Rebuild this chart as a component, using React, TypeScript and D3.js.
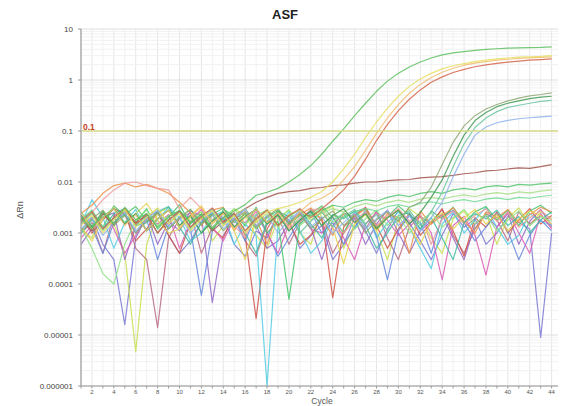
import React from "react";
import * as d3 from "d3";

const cycles = [1,2,3,4,5,6,7,8,9,10,11,12,13,14,15,16,17,18,19,20,21,22,23,24,25,26,27,28,29,30,31,32,33,34,35,36,37,38,39,40,41,42,43,44];
const xTickValues = [2,4,6,8,10,12,14,16,18,20,22,24,26,28,30,32,34,36,38,40,42,44];
const yTickValues = [10,1,0.1,0.01,0.001,0.0001,0.00001,0.000001];
const yTickLabels = ["10","1","0.1","0.01","0.001","0.0001","0.00001","0.000001"];
const threshold = 0.1;
const thresholdLabel = "0.1";
const title = "ASF";
const xTitle = "Cycle";
const yTitle = "ΔRn";

// baseline (negative) wells
const noiseBluePurple = [1.5e-3,2.0e-3,6e-4,3e-4,1.6e-5,8e-4,2.1e-3,2.6e-3,9e-4,4e-4,7e-4,1.6e-3,2.4e-3,2.0e-3,6e-4,3.5e-4,1.1e-3,8e-4,2.6e-3,1.8e-3,5e-4,9e-4,1.4e-3,3.0e-4,6e-4,2.0e-3,1.1e-3,4e-4,1.2e-3,2.8e-3,1.6e-3,7e-4,3e-4,9e-4,2.4e-3,1.3e-3,1.9e-3,6e-4,1.0e-3,2.1e-3,1.6e-3,1.2e-3,9e-6,1.0e-3];
const noiseYellowGreen = [1.2e-3,8e-4,2.5e-3,1.5e-3,4e-4,4.7e-6,6e-4,2.4e-3,3.2e-3,1.2e-3,2.0e-3,2.6e-3,7e-4,1.4e-3,3.0e-3,2.2e-3,9e-4,5e-4,1.9e-3,2.9e-3,1.0e-3,6e-4,2.6e-3,3.4e-3,5e-4,1.5e-3,2.3e-3,1.1e-3,3e-4,1.8e-3,3.0e-3,2.1e-3,8e-4,4e-4,1.9e-3,2.7e-3,1.2e-3,2.4e-3,6e-4,2.0e-3,3.1e-3,1.4e-3,2.6e-3,1.9e-3];
const noiseRose = [1.0e-3,1.6e-3,4e-4,2.2e-3,2.8e-3,5e-4,3e-4,1.4e-5,8e-4,1.9e-3,2.5e-3,4e-4,1.3e-3,2.0e-3,2.4e-3,7e-4,3.5e-4,1.5e-3,2.2e-3,6e-4,1.6e-3,2.9e-3,1.8e-3,4e-4,1.0e-3,2.3e-3,1.2e-3,2.7e-3,8e-4,3e-4,1.3e-3,2.1e-3,1.5e-3,3.0e-3,9e-4,4e-4,1.2e-3,2.4e-3,1.8e-3,7e-4,2.6e-3,1.5e-3,2.2e-3,1.3e-3];
const noisePurple = [6e-4,1.2e-3,2.0e-3,2.5e-3,3e-4,1.4e-3,2.4e-3,6e-4,1.7e-3,1.1e-3,2.7e-3,2.2e-3,4.3e-5,9e-4,1.8e-3,3.0e-3,1.4e-3,5e-4,7e-4,1.6e-3,2.6e-3,1.3e-3,3e-4,1.4e-3,2.5e-3,1.9e-3,6e-4,1.5e-3,2.8e-3,1.0e-3,4e-4,1.1e-3,1.7e-3,2.3e-3,8e-4,3e-4,1.5e-3,2.2e-3,1.3e-3,2.4e-3,6e-4,1.7e-3,2.9e-3,1.4e-3];
const noiseRed = [2.0e-3,1.0e-3,1.8e-3,3.0e-3,2.4e-3,7e-4,1.2e-3,2.6e-3,9e-4,4e-4,1.6e-3,2.1e-3,1.2e-3,8e-4,2.5e-3,9e-4,2.1e-5,1.2e-3,2.7e-3,1.6e-3,6e-4,9e-4,2.0e-3,5.4e-5,1.3e-3,2.2e-3,3.2e-3,1.4e-3,5e-4,1.2e-3,2.4e-3,9e-4,1.6e-3,2.9e-3,1.1e-3,3.5e-4,2.0e-3,1.3e-3,2.6e-3,1.0e-3,1.8e-3,3.0e-3,1.5e-3,2.2e-3];
const noiseCyan = [1.5e-3,4.5e-3,2.0e-3,5e-4,1.6e-3,2.9e-3,1.1e-3,1.8e-3,3.2e-3,2.0e-3,7e-4,1.0e-3,2.2e-3,2.6e-3,6e-4,1.5e-3,9e-4,1.0e-6,1.4e-3,2.6e-3,1.1e-3,4e-4,7e-4,1.8e-3,2.4e-3,1.2e-3,2.9e-3,8e-4,1.6e-3,2.6e-3,1.3e-3,5e-4,2.0e-4,1.5e-3,2.6e-3,1.0e-3,1.8e-3,3.2e-3,1.3e-3,6e-4,9e-4,2.4e-3,1.7e-3,1.4e-3];
const noiseBlue = [2.2e-3,1.3e-3,4e-4,1.6e-3,2.4e-3,1.0e-3,1.9e-3,3e-4,1.4e-3,2.8e-3,1.2e-3,6e-5,1.1e-3,2.5e-3,1.9e-3,7e-4,2.3e-3,1.0e-3,3.5e-4,8e-4,1.8e-3,2.6e-3,1.0e-3,1.6e-3,6e-4,1.3e-3,2.6e-3,9e-4,1.2e-4,1.1e-3,2.2e-3,1.6e-3,4e-4,2.1e-3,2.8e-3,1.6e-3,7e-4,1.3e-3,2.4e-3,1.1e-3,3e-4,9e-4,1.8e-3,1.1e-3];
const noiseMagenta = [8e-4,1.4e-3,2.6e-3,1.2e-3,4e-4,9e-4,2.0e-3,1.5e-3,2.3e-3,5e-4,1.7e-3,2.9e-3,1.3e-3,7e-4,1.9e-3,1.6e-3,2.6e-3,1.0e-3,4e-4,1.5e-3,2.4e-3,1.2e-3,1.0e-3,2.1e-3,8e-4,3e-4,1.5e-3,2.5e-3,1.8e-3,9e-4,1.5e-3,2.2e-3,1.0e-3,1.2e-4,1.4e-3,2.1e-3,9e-4,1.5e-4,1.3e-3,2.6e-3,1.0e-3,4e-4,2.4e-3,1.2e-3];
const noiseGreen = [1.8e-3,2.8e-3,1.3e-3,3.4e-3,2.2e-3,1.6e-3,3.0e-3,1.2e-3,2.0e-3,3.6e-3,1.5e-3,2.4e-3,1.1e-3,2.9e-3,2.2e-3,1.4e-3,3.2e-3,1.0e-3,1.7e-3,5e-5,1.5e-3,2.4e-3,3.4e-3,2.0e-3,1.0e-3,2.6e-3,3.0e-3,1.3e-3,2.1e-3,3.4e-3,2.2e-3,1.2e-3,2.7e-3,1.9e-3,3.2e-3,1.6e-3,2.6e-3,3.3e-3,1.8e-3,2.8e-3,1.4e-3,2.7e-3,3.5e-3,2.4e-3];
const noiseOrange = [2.4e-3,3.5e-3,6e-3,8.5e-3,9.5e-3,8e-3,9e-3,7.5e-3,6e-3,4e-3,2.5e-3,1.4e-3,2.8e-3,3.2e-3,1.1e-3,2.6e-3,1.9e-3,6e-4,2.8e-3,1.5e-3,2.3e-3,3.1e-3,1.8e-3,9e-4,2.4e-3,2.1e-3,3.0e-3,1.2e-3,2.4e-3,2.0e-3,4e-4,2.7e-3,1.5e-3,2.2e-3,3.1e-3,1.7e-3,1.0e-3,2.6e-3,2.0e-3,2.9e-3,1.6e-3,2.3e-3,3.2e-3,2.6e-3];
const noiseSalmon = [1.5e-3,2.5e-3,4.5e-3,7e-3,9.5e-3,1.0e-2,8.5e-3,7.5e-3,7e-3,3e-3,5e-3,3e-3,1.8e-3,2.6e-3,1.4e-3,8e-4,3.0e-3,1.6e-3,2.3e-3,1.2e-3,2.0e-3,2.8e-3,3.0e-3,1.2e-3,1.0e-3,1.8e-3,2.6e-3,1.4e-3,2.1e-3,3.0e-3,1.7e-3,2.4e-3,6e-4,1.9e-3,2.7e-3,1.5e-3,2.2e-3,3.0e-3,1.7e-3,2.5e-3,1.3e-3,2.0e-3,2.8e-3,1.8e-3];
const noiseTeal = [1.0e-3,1.8e-3,1.2e-3,2.4e-3,3.0e-3,1.4e-3,1.6e-3,2.6e-3,3.3e-3,1.3e-3,6e-4,1.6e-3,2.5e-3,1.8e-3,2.4e-3,1.0e-3,4e-4,1.7e-3,2.6e-3,2.1e-3,2.9e-3,1.5e-3,8e-4,2.3e-3,1.9e-3,2.7e-3,1.4e-3,5e-4,1.0e-3,2.2e-3,2.5e-3,1.2e-3,2.0e-3,8e-4,3e-4,1.6e-3,2.4e-3,1.9e-3,2.8e-3,1.4e-3,2.1e-3,1.0e-3,1.8e-3,2.6e-3];
const noiseYellow = [1.3e-3,7e-4,1.9e-3,3.2e-3,1.5e-3,2.4e-3,3.8e-3,1.8e-3,1.0e-3,1.2e-3,2.2e-3,3.4e-3,1.6e-3,2.5e-3,1.1e-3,3e-4,2.0e-3,2.9e-3,1.4e-3,2.3e-3,2.8e-3,1.8e-3,2.7e-3,1.3e-3,2.5e-4,1.5e-3,2.4e-3,1.1e-3,2.0e-3,2.8e-3,1.3e-3,6e-4,1.7e-3,2.5e-3,1.2e-3,2.0e-3,2.9e-3,1.5e-3,2.3e-3,1.1e-3,1.9e-3,2.7e-3,2.2e-3,1.5e-3];
const noiseLightGreen = [1.3e-3,5e-4,1.6e-4,1.0e-4,6e-4,1.8e-3,2.8e-3,1.4e-3,2.2e-3,2.6e-3,1.7e-3,2.6e-3,1.3e-3,2.0e-3,3.0e-3,1.5e-3,2.3e-3,2.8e-3,1.9e-3,2.8e-3,1.4e-3,2.1e-3,3.2e-3,1.6e-3,2.5e-3,1.2e-3,1.9e-3,2.8e-3,1.4e-3,2.2e-3,1.0e-3,1.7e-3,2.5e-3,1.3e-3,2.0e-3,2.9e-3,1.5e-3,2.3e-3,1.1e-3,1.8e-3,2.7e-3,1.4e-3,2.1e-3,1.7e-3];

// slowly drifting wells
const driftBrown = [1.9e-3,1.1e-3,2.4e-3,1.4e-3,3.0e-3,1.6e-3,2.2e-3,1.0e-3,1.8e-3,2.7e-3,1.3e-3,2.0e-3,1.1e-3,1.7e-3,2.2e-3,3e-3,4e-3,5e-3,6e-3,6.5e-3,6.8e-3,7.5e-3,7.8e-3,8.5e-3,8.8e-3,9.5e-3,1.0e-2,1.0e-2,1.06e-2,1.1e-2,1.12e-2,1.2e-2,1.25e-2,1.28e-2,1.35e-2,1.45e-2,1.52e-2,1.65e-2,1.7e-2,1.8e-2,1.9e-2,1.85e-2,2.0e-2,2.2e-2];
const driftGreen = [2.1e-3,1.3e-3,2.7e-3,1.6e-3,2.3e-3,3.3e-3,1.7e-3,2.5e-3,1.2e-3,2.0e-3,2.9e-3,1.5e-3,2.3e-3,3.1e-3,1.6e-3,2.4e-3,1.2e-3,2.0e-3,2.8e-3,1.5e-3,2.2e-3,2.2e-3,2.8e-3,3.5e-3,3.2e-3,4e-3,4.5e-3,4.2e-3,5e-3,5.6e-3,5.2e-3,6e-3,6.5e-3,6e-3,7e-3,7.5e-3,7e-3,8e-3,8.5e-3,8e-3,9e-3,8.7e-3,9.2e-3,9.5e-3];
const driftLightGreen = [1.5e-3,2.4e-3,1.1e-3,1.9e-3,2.8e-3,1.4e-3,2.1e-3,3.0e-3,1.6e-3,2.5e-3,1.2e-3,2.0e-3,2.8e-3,1.4e-3,2.2e-3,3.0e-3,1.6e-3,2.4e-3,1.3e-3,2.1e-3,2.9e-3,1.8e-3,2.5e-3,3.0e-3,2.6e-3,3.3e-3,3.8e-3,3.4e-3,4.0e-3,4.4e-3,4.0e-3,4.6e-3,5.0e-3,4.6e-3,5.2e-3,5.6e-3,5.2e-3,5.8e-3,6.2e-3,5.8e-3,6.4e-3,6.1e-3,6.6e-3,7.0e-3];
const driftMint = [2.6e-3,1.4e-3,2.1e-3,3.1e-3,1.6e-3,2.4e-3,1.1e-3,1.9e-3,2.8e-3,1.4e-3,2.2e-3,1.0e-3,1.8e-3,2.6e-3,1.3e-3,2.1e-3,2.9e-3,1.5e-3,2.3e-3,1.1e-3,1.8e-3,2.7e-3,1.4e-3,2.2e-3,2.0e-3,2.6e-3,3.0e-3,2.7e-3,3.3e-3,3.6e-3,3.2e-3,3.8e-3,4.1e-3,3.7e-3,4.2e-3,4.5e-3,4.1e-3,4.6e-3,4.9e-3,4.5e-3,5.0e-3,4.8e-3,5.2e-3,5.5e-3];

// amplifying wells
const ampGreen = [2.0e-3,1.2e-3,2.6e-3,1.5e-3,3.2e-3,1.8e-3,2.4e-3,1.3e-3,2.1e-3,2.8e-3,1.6e-3,2.3e-3,1.2e-3,2.0e-3,2.7e-3,3.6e-3,5.5e-3,6.3e-3,7.5e-3,1.0e-2,1.4e-2,2.1e-2,3.5e-2,6.3e-2,0.11,0.2,0.35,0.6,0.95,1.35,1.8,2.25,2.7,3.1,3.4,3.6,3.8,4.0,4.1,4.2,4.25,4.3,4.35,4.45];
const ampYellow = [1.4e-3,2.2e-3,1.0e-3,1.8e-3,2.9e-3,1.3e-3,2.0e-3,3.1e-3,1.5e-3,2.4e-3,1.1e-3,1.9e-3,2.7e-3,1.4e-3,2.2e-3,1.0e-3,1.7e-3,2.6e-3,3.0e-3,3.4e-3,4e-3,5e-3,6.5e-3,1.0e-2,1.8e-2,3.5e-2,7.5e-2,0.15,0.28,0.48,0.75,1.05,1.35,1.65,1.9,2.1,2.3,2.45,2.6,2.7,2.8,2.85,2.9,3.0];
const ampPaleOrange = [2.5e-3,1.2e-3,2.0e-3,3.0e-3,1.4e-3,2.3e-3,1.1e-3,1.9e-3,2.8e-3,1.3e-3,2.1e-3,3.2e-3,1.5e-3,2.4e-3,1.2e-3,2.0e-3,2.9e-3,1.6e-3,2.5e-3,1.3e-3,2.6e-3,4e-3,4.8e-3,6.5e-3,1.1e-2,2.0e-2,4.2e-2,9e-2,0.18,0.33,0.55,0.82,1.12,1.42,1.7,1.95,2.15,2.3,2.45,2.55,2.65,2.72,2.78,2.85];
const ampRed = [1.7e-3,2.6e-3,1.2e-3,2.0e-3,3.0e-3,1.5e-3,2.3e-3,1.0e-3,1.8e-3,2.7e-3,1.3e-3,2.1e-3,3.1e-3,1.6e-3,2.4e-3,1.1e-3,1.9e-3,2.8e-3,1.4e-3,2.2e-3,3.0e-3,2.0e-3,3.0e-3,4.5e-3,7e-3,1.3e-2,2.8e-2,6.5e-2,0.135,0.25,0.42,0.64,0.9,1.15,1.4,1.62,1.82,1.98,2.12,2.25,2.35,2.45,2.52,2.6];
const lateGrayGreen = [1.1e-3,1.9e-3,2.8e-3,1.4e-3,2.2e-3,1.0e-3,1.7e-3,2.5e-3,1.2e-3,2.0e-3,2.9e-3,1.5e-3,2.3e-3,1.1e-3,1.8e-3,2.6e-3,1.3e-3,2.1e-3,3.0e-3,1.6e-3,2.4e-3,1.2e-3,1.9e-3,2.7e-3,1.4e-3,2.2e-3,1.0e-3,1.8e-3,2.6e-3,1.7e-3,3.2e-3,4.0e-3,7.9e-3,2.2e-2,6e-2,0.126,0.2,0.27,0.33,0.39,0.44,0.49,0.52,0.56];
const lateDarkGreen = [2.3e-3,1.3e-3,2.0e-3,3.0e-3,1.5e-3,2.4e-3,1.1e-3,1.9e-3,2.8e-3,1.4e-3,2.2e-3,1.0e-3,1.7e-3,2.6e-3,1.3e-3,2.1e-3,2.9e-3,1.5e-3,2.3e-3,1.1e-3,1.8e-3,2.7e-3,1.4e-3,2.2e-3,3.0e-3,1.6e-3,2.4e-3,1.2e-3,2.0e-3,2.8e-3,1.5e-3,2.5e-3,5e-3,1.1e-2,3.2e-2,8.3e-2,0.16,0.23,0.3,0.35,0.39,0.43,0.46,0.48];
const lateTeal = [1.6e-3,2.5e-3,1.2e-3,2.0e-3,2.9e-3,1.4e-3,2.2e-3,1.0e-3,1.8e-3,2.7e-3,1.3e-3,2.1e-3,3.0e-3,1.5e-3,2.3e-3,1.1e-3,1.9e-3,2.8e-3,1.4e-3,2.2e-3,1.0e-3,1.7e-3,2.6e-3,1.3e-3,2.1e-3,2.9e-3,1.5e-3,2.3e-3,1.1e-3,1.9e-3,2.8e-3,1.4e-3,2.6e-3,6.3e-3,2e-2,5.6e-2,0.117,0.18,0.24,0.29,0.32,0.35,0.38,0.4];
const lateLightBlue = [1.2e-3,2.0e-3,9e-4,1.6e-3,2.5e-3,1.1e-3,1.9e-3,2.8e-3,1.3e-3,2.1e-3,1.0e-3,1.7e-3,2.6e-3,1.2e-3,2.0e-3,2.9e-3,1.4e-3,2.2e-3,1.0e-3,1.8e-3,2.7e-3,1.3e-3,2.1e-3,1.0e-3,1.6e-3,2.5e-3,1.2e-3,1.9e-3,2.8e-3,1.4e-3,2.2e-3,1.1e-3,2.0e-3,4e-3,1.26e-2,3.5e-2,8.3e-2,0.12,0.145,0.162,0.174,0.182,0.19,0.195];

const wells = [
  noiseBluePurple, noiseYellowGreen, noiseRose, noisePurple, noiseRed, noiseCyan, noiseBlue,
  noiseMagenta, noiseGreen, noiseOrange, noiseSalmon, noiseTeal, noiseYellow, noiseLightGreen,
  driftBrown, driftGreen, driftLightGreen, driftMint,
  lateLightBlue, lateTeal, lateDarkGreen, lateGrayGreen,
  ampRed, ampPaleOrange, ampYellow, ampGreen,
];
const wellColors = [
  "#7b78d2", "#c9de4e", "#b86a82", "#9466c6", "#cf5247", "#52cde2", "#6688dc",
  "#dc5cb4", "#48c46c", "#eb9046", "#ee9a9a", "#3fb9a2", "#e6d44a", "#8ee386",
  "#a0524a", "#52c46c", "#a6df86", "#70d894",
  "#8cb2ec", "#6cc6a0", "#3f9a52", "#8fa874",
  "#d4644a", "#f2bc72", "#e6de62", "#5cbf5e",
];

const W = 563, H = 406;
const L = 81, R = 558, T = 29, B = 386;

export default function App() {
  const x = d3.scaleLinear().domain([1, 44.4]).range([L, 556]);
  const y = d3.scaleLog().domain([1e-6, 10]).range([B, T]);
  const line = d3.line<number>()
    .x((_, i) => x(cycles[i]))
    .y((d) => y(Math.max(d, 1e-6)));

  const minor: number[] = [];
  for (let e = -6; e < 1; e++) {
    for (let m = 2; m <= 9; m++) minor.push(m * Math.pow(10, e));
  }

  return (
    <svg width={W} height={H} style={{ position: "absolute", left: 0, top: 0, background: "#fff" }}
      fontFamily="'Liberation Sans', Arial, sans-serif">
      <defs>
        <clipPath id="plot"><rect x={L} y={T} width={R - L} height={B - T} /></clipPath>
      </defs>
      {cycles.map((c) => (
        <line key={"vg" + c} x1={x(c)} x2={x(c)} y1={T} y2={B}
          stroke={c % 2 === 0 ? "#e6e6e6" : "#f1f1f1"} strokeWidth={1} />
      ))}
      {minor.map((v, i) => (
        <line key={"mg" + i} x1={L} x2={R} y1={y(v)} y2={y(v)} stroke="#f1f1f1" strokeWidth={1} />
      ))}
      {yTickValues.map((v) => (
        <line key={"yg" + v} x1={L} x2={R} y1={y(v)} y2={y(v)} stroke="#dedede" strokeWidth={1} />
      ))}
      <g clipPath="url(#plot)">
        {wells.map((w, i) => (
          <path key={"w" + i} d={line(w) || ""} fill="none" stroke={wellColors[i]}
            strokeWidth={1.2} strokeOpacity={0.85} strokeLinejoin="round" />
        ))}
      </g>
      <line x1={L} x2={R} y1={y(threshold)} y2={y(threshold)} stroke="#d9dc86" strokeWidth={1.6} />
      <text x={L + 2} y={y(threshold) - 1} fontSize={8.5} fontWeight="bold" fill="#c8421e">{thresholdLabel}</text>
      <line x1={L} x2={L} y1={T} y2={B} stroke="#9a9a9a" strokeWidth={1.2} />
      <line x1={L} x2={R} y1={B} y2={B} stroke="#9a9a9a" strokeWidth={1.2} />
      {yTickValues.map((v, i) => (
        <g key={"yt" + v}>
          <line x1={L - 3} x2={L} y1={y(v)} y2={y(v)} stroke="#9a9a9a" />
          <text x={L - 8} y={y(v) + 3} fontSize={8} textAnchor="end" fill="#444">{yTickLabels[i]}</text>
        </g>
      ))}
      {cycles.map((c) => (
        <line key={"xt" + c} x1={x(c)} x2={x(c)} y1={B} y2={B + 2.5} stroke="#9a9a9a" />
      ))}
      {xTickValues.map((c) => (
        <text key={"xl" + c} x={x(c)} y={B + 8} fontSize={6} textAnchor="middle" fill="#555">{c}</text>
      ))}
      <text x={322} y={404} fontSize={8.5} textAnchor="middle" fill="#555">{xTitle}</text>
      <text x={285} y={19} fontSize={13} fontWeight="bold" textAnchor="middle" fill="#222">{title}</text>
      <text transform="translate(23,210) rotate(-90)" fontSize={9} textAnchor="middle" fill="#555">{yTitle}</text>
    </svg>
  );
}
